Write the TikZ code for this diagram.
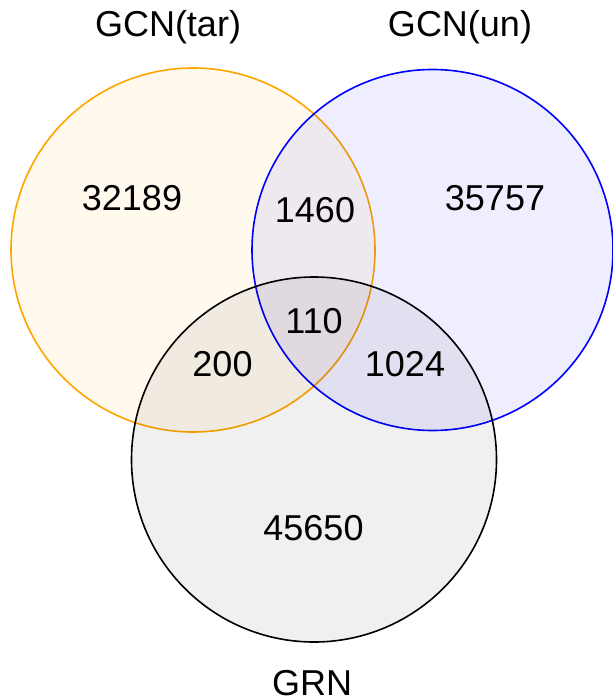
\documentclass[tikz,border=0pt]{standalone}
\usepackage{fontspec}
\setmainfont{Liberation Sans}
\definecolor{vorange}{HTML}{FFA500}
\definecolor{vblue}{HTML}{0000FF}
\begin{document}
\begin{tikzpicture}[x=1pt,y=-1pt,
  setcirc/.style={line width=1.6pt, fill opacity=0.065},
  setlabel/.style={anchor=base, inner sep=0pt, font=\fontsize{36}{36}\selectfont},
  count/.style={anchor=base, inner sep=0pt, font=\fontsize{36}{36}\selectfont}]
\useasboundingbox (0,0) rectangle (612,700);
\fill[white] (0,0) rectangle (612,700);
\draw[setcirc, draw=vorange, fill=vorange] (193,250) circle (182);
\draw[setcirc, draw=vblue, fill=vblue] (432.5,250) circle (180.5);
\draw[setcirc, draw=black, fill=black, fill opacity=0.06] (314,459.5) circle (182.5);
\node[setlabel] (tar) at (168,37) {GCN(tar)};
\node[setlabel] (un) at (460,37) {GCN(un)};
\node[setlabel] (grn) at (312,695) {GRN};
\node[count] (a) at (132,211) {32189};
\node[count] (ab) at (315,223) {1460};
\node[count] (b) at (495,211) {35757};
\node[count] (abc) at (314,333) {110};
\node[count] (ac) at (222.5,376) {200};
\node[count] (bc) at (405,376) {1024};
\node[count] (c) at (313.5,540) {45650};
\end{tikzpicture}
\end{document}
